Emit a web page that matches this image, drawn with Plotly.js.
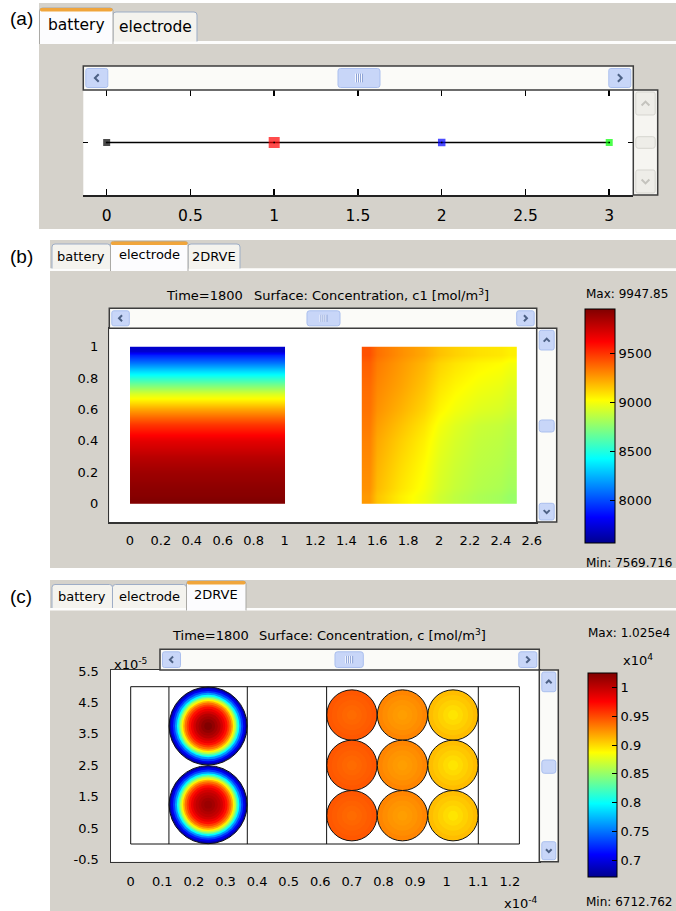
<!DOCTYPE html>
<html>
<head>
<meta charset="utf-8">
<script src="https://cdn.plot.ly/plotly-3.0.1.min.js"></script>
<style>html,body{margin:0;padding:0;background:#fff;}</style>
</head>
<body>
<div id="chart" style="width:676px;height:911px"></div>
<script>
// ---------------- data ----------------
// (a) battery: nodes of the 1D cell model
const batteryX = [0, 1, 2, 3];
const batteryY = [0, 0, 0, 0];
const batteryTicks = [0, 0.5, 1, 1.5, 2, 2.5, 3];
const batteryTickText = ['0', '0.5', '1', '1.5', '2', '2.5', '3'];

// (b) electrode: c1 [mol/m3] at Time=1800
const c1Min = 7569.716, c1Max = 9947.85;
const c1Ticks = [8000, 8500, 9000, 9500];
const elecLeftXEdges = [0, 1];
const elecLeftYEdges = [0, 0.05, 0.15, 0.25, 0.35, 0.45, 0.55, 0.65, 0.75, 0.85, 0.95, 1.0];
const elecLeftC1 = [9943, 9912, 9865, 9793, 9686, 9496, 9234, 8937, 8521, 8093, 7712];
const elecRightXEdges = [1.5, 1.6, 1.9, 2.1, 2.4, 2.5];
const elecRightYEdges = [0, 0.1, 0.4, 0.6, 0.9, 1.0];
const elecRightC1 = [
  [9258, 9056, 8913, 8830, 8782],
  [9294, 9104, 8949, 8866, 8830],
  [9330, 9163, 8997, 8901, 8866],
  [9365, 9234, 9080, 8997, 8949],
  [9425, 9282, 9163, 9092, 9056]
];
const elecXTicks = [0, 0.2, 0.4, 0.6, 0.8, 1, 1.2, 1.4, 1.6, 1.8, 2, 2.2, 2.4, 2.6];
const elecXTickText = ['0', '0.2', '0.4', '0.6', '0.8', '1', '1.2', '1.4', '1.6', '1.8', '2', '2.2', '2.4', '2.6'];
const elecYTicks = [0, 0.2, 0.4, 0.6, 0.8, 1];
const elecYTickText = ['0', '0.2', '0.4', '0.6', '0.8', '1'];

// (c) 2DRVE: c [mol/m3]; x in 1e-4 m, y in 1e-5 m
const cMin = 6712.762, cMax = 10250;
const cTicks = [7000, 7500, 8000, 8500, 9000, 9500, 10000];
const cTickText = ['0.7', '0.75', '0.8', '0.85', '0.9', '0.95', '1'];
const rveXTicks = [0, 0.1, 0.2, 0.3, 0.4, 0.5, 0.6, 0.7, 0.8, 0.9, 1, 1.1, 1.2];
const rveXTickText = ['0', '0.1', '0.2', '0.3', '0.4', '0.5', '0.6', '0.7', '0.8', '0.9', '1', '1.1', '1.2'];
const rveYTicks = [-0.5, 0.5, 1.5, 2.5, 3.5, 4.5, 5.5];
const rveYTickText = ['-0.5', '0.5', '1.5', '2.5', '3.5', '4.5', '5.5'];
const rveBoxX = [0, 1.23];
const rveBoxY = [0, 5];
const rveDividers = [0.121, 0.369, 0.62, 1.10];
// large particles (negative side): radial samples, outer edge first
const bigCenterX = 0.245;
const bigCenterY = [3.75, 1.25];
const bigRadius = 1.24;
const bigRingR = [1.0, 0.95, 0.90, 0.85, 0.80, 0.76, 0.72, 0.68, 0.64, 0.60, 0.55, 0.50, 0.44, 0.38, 0.32, 0.25, 0.18, 0.10];
const bigTopC = [6819, 7031, 7314, 7632, 7986, 8304, 8623, 8906, 9153, 9366, 9542, 9702, 9825, 9932, 10038, 10108, 10179, 10245];
const bigBottomC = [6819, 7031, 7314, 7632, 7986, 8304, 8623, 8906, 9153, 9366, 9542, 9702, 9825, 9932, 10002, 10055, 10108, 10150];
// small particles (positive side), 3 x 3
const smallCenterX = [0.70, 0.86, 1.02];
const smallCenterY = [4.1, 2.5, 0.9];
const smallRadius = 0.8;
const smallRingR = [1.0, 0.8, 0.6, 0.4, 0.2];
const smallColC = [
  [9454, 9436, 9419, 9401, 9383],
  [9295, 9267, 9242, 9224, 9207],
  [9100, 9065, 9029, 8994, 8959]
];

// ---------------- page geometry helpers ----------------
const W = 676, H = 911;
const X = p => p / W;
const Y = p => 1 - p / H;
const FONT = 'DejaVu Sans, sans-serif';
const GRAY = '#d5d2cb';
const JET = [[0, '#00008f'], [0.11, '#0000ff'], [0.36, '#00ffff'], [0.61, '#ffff00'], [0.86, '#ff0000'], [1, '#800000']];

const pt = (x, y) => X(x).toFixed(5) + ',' + Y(y).toFixed(5);
function rrPath(x0, y0, x1, y1, r) {
  return `M${pt(x0 + r, y0)} L${pt(x1 - r, y0)} Q${pt(x1, y0)} ${pt(x1, y0 + r)} L${pt(x1, y1 - r)} Q${pt(x1, y1)} ${pt(x1 - r, y1)} L${pt(x0 + r, y1)} Q${pt(x0, y1)} ${pt(x0, y1 - r)} L${pt(x0, y0 + r)} Q${pt(x0, y0)} ${pt(x0 + r, y0)} Z`;
}
function tabPath(x0, y0, x1, y1, r) {
  return `M${pt(x0, y1)} L${pt(x0, y0 + r)} Q${pt(x0, y0)} ${pt(x0 + r, y0)} L${pt(x1 - r, y0)} Q${pt(x1, y0)} ${pt(x1, y0 + r)} L${pt(x1, y1)}`;
}
const shapes = [];
const annotations = [];
function rect(x0, y0, x1, y1, fill, line, lw, layer) {
  shapes.push({type: 'rect', xref: 'paper', yref: 'paper', x0: X(x0), x1: X(x1), y0: Y(y1), y1: Y(y0),
    fillcolor: fill, line: {color: line || fill, width: lw || 0}, layer: layer || 'below'});
}
function path(d, fill, line, lw, layer) {
  shapes.push({type: 'path', xref: 'paper', yref: 'paper', path: d, fillcolor: fill || 'rgba(0,0,0,0)',
    line: {color: line || 'rgba(0,0,0,0)', width: lw || 0}, layer: layer || 'above'});
}
function text(t, x, y, size, anchor, family) {
  annotations.push({text: t, x: X(x), y: Y(y), xref: 'paper', yref: 'paper', showarrow: false,
    xanchor: anchor || 'center', yanchor: 'middle', font: {family: family || FONT, size: size, color: '#000'}});
}
function chevron(cx, cy, dir, s, color) {
  let d;
  if (dir === 'left') d = `M${pt(cx + s * 0.5, cy - s)} L${pt(cx - s * 0.5, cy)} L${pt(cx + s * 0.5, cy + s)}`;
  if (dir === 'right') d = `M${pt(cx - s * 0.5, cy - s)} L${pt(cx + s * 0.5, cy)} L${pt(cx - s * 0.5, cy + s)}`;
  if (dir === 'up') d = `M${pt(cx - s, cy + s * 0.5)} L${pt(cx, cy - s * 0.5)} L${pt(cx + s, cy + s * 0.5)}`;
  if (dir === 'down') d = `M${pt(cx - s, cy - s * 0.5)} L${pt(cx, cy + s * 0.5)} L${pt(cx + s, cy - s * 0.5)}`;
  path(d, null, color, 2);
}
const BTN = '#c8d6f8', BTN_EDGE = '#aabfee', ARROW = '#4d6185';
function button(x0, y0, x1, y1, dir, enabled) {
  path(rrPath(x0, y0, x1, y1, 2), enabled ? BTN : '#eeede8', enabled ? BTN_EDGE : '#d6d5cf', 1);
  chevron((x0 + x1) / 2, (y0 + y1) / 2, dir, Math.min(x1 - x0, y1 - y0) * 0.2, enabled ? ARROW : '#c4c3bd');
}
function hScroll(x0, y0, x1, y1, t0, t1, bw) {
  rect(x0, y0, x1, y1, '#fbfbf8', '#3d3d3d', 1.5, 'above');
  button(x0 + 2.5, y0 + 2.5, x0 + 2.5 + bw, y1 - 2.5, 'left', true);
  button(x1 - 2.5 - bw, y0 + 2.5, x1 - 2.5, y1 - 2.5, 'right', true);
  path(rrPath(t0, y0 + 2.5, t1, y1 - 2.5, 2.5), BTN, BTN_EDGE, 1);
  const cx = (t0 + t1) / 2, cy = (y0 + y1) / 2, gh = (y1 - y0) * 0.18;
  for (let i = -2; i < 2; i++) {
    path(`M${pt(cx + i * 2 + 0.5, cy - gh)} L${pt(cx + i * 2 + 0.5, cy + gh)}`, null, '#f5f8ff', 1);
    path(`M${pt(cx + i * 2 + 1.5, cy - gh)} L${pt(cx + i * 2 + 1.5, cy + gh)}`, null, '#8ea3d6', 1);
  }
}
function vScroll(x0, y0, x1, y1, upY1, t0, t1, dnY0, enabled) {
  rect(x0, y0, x1, y1, enabled ? '#fbfbf8' : '#f6f5f1', '#3d3d3d', 1.5, 'above');
  button(x0 + 2.5, y0 + 2, x1 - 2.5, upY1, 'up', enabled);
  button(x0 + 2.5, dnY0, x1 - 2.5, y1 - 2, 'down', enabled);
  path(rrPath(x0 + 2.5, t0, x1 - 2.5, t1, 2.5), enabled ? BTN : '#eeede8', enabled ? BTN_EDGE : '#d6d5cf', 1);
}
function tab(x0, y0, x1, y1, label, size, active, ty) {
  if (active) {
    path(tabPath(x0, y0, x1, y1, 3), '#fcfcfe', '#a9a8a4', 1, 'below');
    path(rrPath(x0 + 0.5, y0, x1 - 0.5, y0 + 3.5, 1.5), '#f0a53c', null, 0, 'below');
  } else {
    path(tabPath(x0, y0, x1, y1, 3), '#f4f3ee', '#9dadc6', 1, 'below');
  }
  text(label, (x0 + x1) / 2, ty, size);
}
// short tick marks along the left edge of a colour bar
function barLeftTicks(barX, barTop, barLen, vmin, vmax, vals) {
  vals.forEach(v => {
    const yy = barTop + (vmax - v) / (vmax - vmin) * barLen;
    path(`M${pt(barX, yy)} L${pt(barX + 5, yy)}`, null, '#000', 1);
  });
}

// ---------------- GUI frames ----------------
// panel (a)
rect(39, 3, 676, 41, GRAY);
rect(39, 41, 676, 44, '#fdfdfc');
rect(39, 44, 676, 229, GRAY);
tab(113, 12, 197, 41.5, 'electrode', 15.5, false, 27);
tab(39.5, 8, 113, 44, 'battery', 15.5, true, 25);
rect(83.3, 90, 633.3, 195, '#ffffff');
// panel (b)
rect(50, 240, 676, 268.5, GRAY);
rect(50, 268.5, 676, 271, '#fdfdfc');
rect(50, 271, 676, 568, GRAY);
tab(52, 244, 110.5, 268.5, 'battery', 13, false, 256);
tab(188, 244, 240, 268.5, '2DRVE', 13, false, 256);
tab(110.5, 241.5, 188, 271, 'electrode', 13, true, 254);
rect(109.3, 328.3, 536.7, 522, '#ffffff');
// panel (c)
rect(50, 580, 676, 608, GRAY);
rect(50, 608, 676, 610.5, '#fdfdfc');
rect(50, 610.5, 676, 911, GRAY);
tab(52, 584.5, 112.5, 608, 'battery', 13, false, 596);
tab(112.5, 584.5, 186.5, 608, 'electrode', 13, false, 596);
tab(186.5, 581, 246, 610.5, '2DRVE', 13, true, 594);
rect(111, 670, 539.3, 861.7, '#ffffff');

// scrollbars
hScroll(83.3, 66, 633.3, 90, 338, 380, 22);
vScroll(633.3, 90, 657.7, 195, 115, 136.7, 148.3, 170, false);
hScroll(109.3, 308.3, 536.7, 328.3, 307, 340, 17.5);
vScroll(536.7, 328.3, 556.7, 522, 350, 420, 432, 503.3, true);
hScroll(160, 649.3, 539.3, 670, 335, 363.3, 18);
vScroll(539.3, 670, 558.3, 861.7, 691.7, 760, 773.3, 841.7, true);

// colour bar geometry (pixels)
const cb1 = {x: 585, top: 309, len: 234, thick: 30};
const cb2 = {x: 588, top: 673, len: 204, thick: 29};
barLeftTicks(cb1.x, cb1.top, cb1.len, c1Min, c1Max, c1Ticks);
barLeftTicks(cb2.x, cb2.top, cb2.len, cMin, cMax, cTicks);

// panel labels and texts
text('(a)', 8, 18, 19, 'left', 'Liberation Sans, Arial, sans-serif');
text('(b)', 8, 256, 19, 'left', 'Liberation Sans, Arial, sans-serif');
text('(c)', 8, 596, 19, 'left', 'Liberation Sans, Arial, sans-serif');
text('Time=1800', 164, 295, 13, 'left');
text('Surface: Concentration, c1 [mol/m<sup>3</sup>]', 251.5, 295, 13, 'left');
text('Max: 9947.85', 584, 294, 12, 'left');
text('Min: 7569.716', 584, 562.5, 12, 'left');
text('Time=1800', 170, 635, 13, 'left');
text('Surface: Concentration, c [mol/m<sup>3</sup>]', 257, 635, 13, 'left');
text('Max: 1.025e4', 586, 633, 12, 'left');
text('x10<sup>4</sup>', 621, 660, 13, 'left');
text('Min: 6712.762', 584, 901.5, 12, 'left');
text('x10<sup>-5</sup>', 112, 664, 13, 'left');
text('x10<sup>-4</sup>', 502, 903, 13, 'left');

// ---------------- axes ----------------
const base = {showgrid: false, zeroline: false, fixedrange: true, color: '#000'};
const f13 = {family: FONT, size: 13, color: '#000'};

// (c) pixel scale for marker sizes (px per 1e-5 m along y)
const y3Dom = [861.7, 670];
const y3Range = [-0.5626, 5.531];
const pxPerY3 = (y3Dom[0] - y3Dom[1]) / (y3Range[1] - y3Range[0]);

const layout = {
  width: W, height: H, autosize: false,
  margin: {l: 0, r: 0, t: 0, b: 0, pad: 0},
  paper_bgcolor: '#ffffff', plot_bgcolor: 'rgba(0,0,0,0)',
  showlegend: false,
  xaxis: Object.assign({}, base, {domain: [X(83.3), X(633.3)], range: [-0.1395, 3.1437], anchor: 'y',
    tickvals: batteryTicks, ticktext: batteryTickText, ticks: 'inside', ticklen: 6, tickwidth: 1.5, tickcolor: '#000',
    showline: true, linecolor: '#222', linewidth: 1.5, mirror: 'ticks',
    tickfont: {family: FONT, size: 15.5, color: '#000'}, ticklabelstandoff: 6}),
  yaxis: Object.assign({}, base, {domain: [Y(195), Y(90)], range: [-1, 1], anchor: 'x',
    tickvals: [0], ticks: 'inside', ticklen: 5, tickwidth: 1.2, tickcolor: '#000', showline: false,
    mirror: 'ticks', showticklabels: false}),
  xaxis2: Object.assign({}, base, {domain: [X(109.3), X(536.7)], range: [-0.134, 2.632], anchor: 'y2',
    tickvals: elecXTicks, ticktext: elecXTickText, ticks: '', showline: true, mirror: true,
    linecolor: '#333', linewidth: 1.5, tickfont: f13, ticklabelstandoff: 6}),
  yaxis2: Object.assign({}, base, {domain: [Y(522), Y(328.3)], range: [-0.1195, 1.118], anchor: 'x2',
    tickvals: elecYTicks, ticktext: elecYTickText, ticks: '', showline: true, mirror: true,
    linecolor: '#333', linewidth: 1.5, tickfont: f13, ticklabelstandoff: 7}),
  xaxis3: Object.assign({}, base, {domain: [X(111), X(539.3)], range: [-0.0623, 1.293], anchor: 'y3',
    tickvals: rveXTicks, ticktext: rveXTickText, ticks: '', showline: true, mirror: true,
    linecolor: '#333', linewidth: 1.5, tickfont: f13, ticklabelstandoff: 7}),
  yaxis3: Object.assign({}, base, {domain: [Y(y3Dom[0]), Y(y3Dom[1])], range: y3Range, anchor: 'x3',
    tickvals: rveYTicks, ticktext: rveYTickText, ticks: '', showline: true, mirror: true,
    linecolor: '#333', linewidth: 1.5, tickfont: f13, ticklabelstandoff: 8}),
  coloraxis: {cmin: c1Min, cmax: c1Max, colorscale: JET,
    colorbar: {x: X(cb1.x), xanchor: 'left', xpad: 0, y: Y(cb1.top), yanchor: 'top', ypad: 0,
      len: cb1.len, lenmode: 'pixels', thickness: cb1.thick, thicknessmode: 'pixels',
      outlinewidth: 1, outlinecolor: '#000', tickvals: c1Ticks, ticktext: c1Ticks.map(String),
      ticks: 'inside', ticklen: 5, tickcolor: '#000', tickwidth: 1, tickfont: f13}},
  coloraxis2: {cmin: cMin, cmax: cMax, colorscale: JET,
    colorbar: {x: X(cb2.x), xanchor: 'left', xpad: 0, y: Y(cb2.top), yanchor: 'top', ypad: 0,
      len: cb2.len, lenmode: 'pixels', thickness: cb2.thick, thicknessmode: 'pixels',
      outlinewidth: 1, outlinecolor: '#000', tickvals: cTicks, ticktext: cTickText,
      ticks: 'inside', ticklen: 5, tickcolor: '#000', tickwidth: 1, tickfont: f13}},
  shapes: shapes,
  annotations: annotations
};

// (c) domain outline and particle-region dividers
shapes.push({type: 'rect', xref: 'x3', yref: 'y3', x0: rveBoxX[0], x1: rveBoxX[1], y0: rveBoxY[0], y1: rveBoxY[1],
  line: {color: '#111', width: 1}, fillcolor: 'rgba(0,0,0,0)', layer: 'above'});
rveDividers.forEach(d => shapes.push({type: 'line', xref: 'x3', yref: 'y3', x0: d, x1: d, y0: rveBoxY[0], y1: rveBoxY[1],
  line: {color: '#111', width: 1}, layer: 'above'}));

// ---------------- traces ----------------
const traces = [];
// (a) 1D battery line with node markers
traces.push({type: 'scatter', mode: 'lines+markers', x: batteryX, y: batteryY, xaxis: 'x', yaxis: 'y',
  line: {color: '#000', width: 1.5},
  marker: {symbol: 'square', size: [7, 11, 7.5, 7], color: ['#000000', '#ff0000', '#0000ff', '#00ff00'], line: {width: 0}},
  hoverinfo: 'skip'});
traces.push({type: 'scatter', mode: 'markers', x: batteryX, y: batteryY, xaxis: 'x', yaxis: 'y',
  marker: {symbol: 'square', size: 1.6, color: '#000'}, hoverinfo: 'skip'});

// (b) electrode concentration surfaces
traces.push({type: 'heatmap', x: elecLeftXEdges, y: elecLeftYEdges, z: elecLeftC1.map(v => [v]),
  zsmooth: 'best', coloraxis: 'coloraxis', xaxis: 'x2', yaxis: 'y2', hoverinfo: 'skip'});
traces.push({type: 'heatmap', x: elecRightXEdges, y: elecRightYEdges, z: elecRightC1,
  zsmooth: 'best', coloraxis: 'coloraxis', xaxis: 'x2', yaxis: 'y2', hoverinfo: 'skip'});

// (c) particles as concentric rings coloured by concentration
function particle(cx, cy, radius, ringR, ringC) {
  return {type: 'scatter', mode: 'markers', xaxis: 'x3', yaxis: 'y3',
    x: ringR.map(() => cx), y: ringR.map(() => cy),
    marker: {symbol: 'circle', size: ringR.map(r => 2 * r * radius * pxPerY3), color: ringC,
      coloraxis: 'coloraxis2', opacity: 1,
      line: {color: '#111', width: ringR.map((r, i) => (i === 0 ? 1 : 0))}},
    hoverinfo: 'skip'};
}
traces.push(particle(bigCenterX, bigCenterY[0], bigRadius, bigRingR, bigTopC));
traces.push(particle(bigCenterX, bigCenterY[1], bigRadius, bigRingR, bigBottomC));
smallCenterX.forEach((cx, j) => smallCenterY.forEach(cy =>
  traces.push(particle(cx, cy, smallRadius, smallRingR, smallColC[j]))));

Plotly.newPlot('chart', traces, layout, {staticPlot: true, displayModeBar: false});
</script>
</body>
</html>
